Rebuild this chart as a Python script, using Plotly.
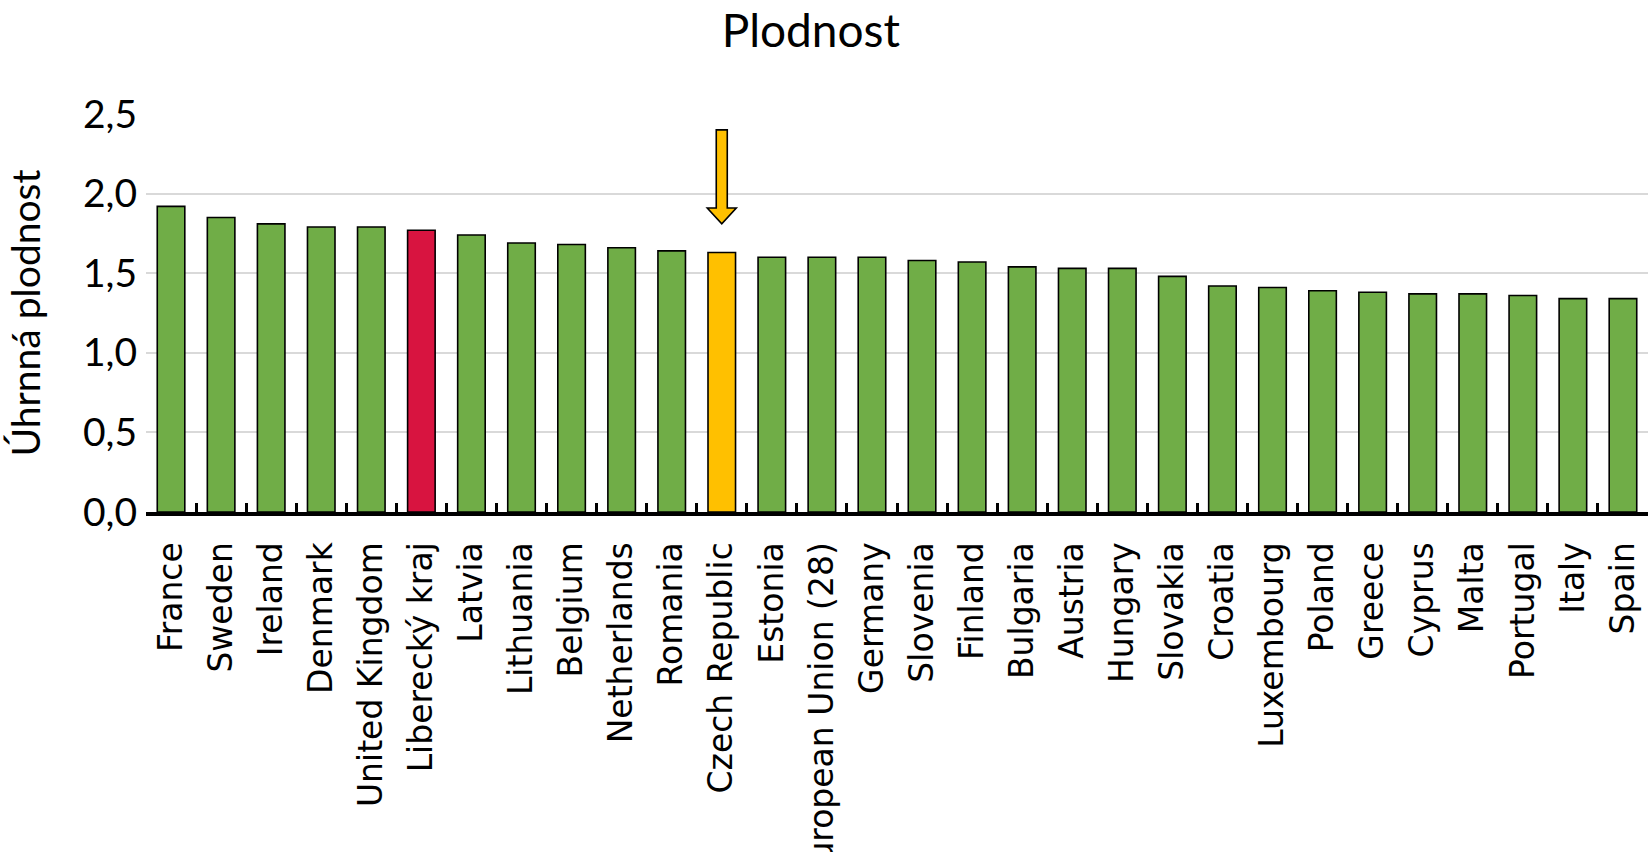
import plotly.graph_objects as go

categories = ["France", "Sweden", "Ireland", "Denmark", "United Kingdom", "Liberecký kraj",
              "Latvia", "Lithuania", "Belgium", "Netherlands", "Romania", "Czech Republic",
              "Estonia", "European Union (28)", "Germany", "Slovenia", "Finland", "Bulgaria",
              "Austria", "Hungary", "Slovakia", "Croatia", "Luxembourg", "Poland", "Greece",
              "Cyprus", "Malta", "Portugal", "Italy", "Spain"]
values = [1.92, 1.85, 1.81, 1.79, 1.79, 1.77, 1.74, 1.69, 1.68, 1.66, 1.64, 1.63,
          1.60, 1.60, 1.60, 1.58, 1.57, 1.54, 1.53, 1.53, 1.48, 1.42, 1.41, 1.39, 1.38,
          1.37, 1.37, 1.36, 1.34, 1.34]
highlight_region = "Liberecký kraj"
highlight_country = "Czech Republic"
y_ticks = [0, 0.5, 1.0, 1.5, 2.0, 2.5]

GREEN = "#70AD47"
RED = "#D81440"
YELLOW = "#FFC000"

colors = [RED if c == highlight_region else YELLOW if c == highlight_country else GREEN
          for c in categories]

fig = go.Figure()
fig.add_trace(go.Bar(
    x=categories, y=values, width=0.55,
    marker=dict(color=colors, line=dict(color="black", width=1.6)),
    hoverinfo="x+y",
))

# block arrow pointing at the Czech Republic bar
ci = categories.index(highlight_country)
cv = values[ci]
sw, hw = 0.11, 0.29
tip, base, top = cv + 0.18, cv + 0.28, cv + 0.77
path = (f"M {ci - sw} {top} L {ci + sw} {top} L {ci + sw} {base} L {ci + hw} {base} "
        f"L {ci} {tip} L {ci - hw} {base} L {ci - sw} {base} Z")
fig.add_shape(type="path", path=path, xref="x", yref="y",
              fillcolor=YELLOW, line=dict(color="black", width=1.6), layer="above")

fig.update_layout(
    width=1648, height=852,
    margin=dict(l=146, r=0, t=114, b=340, autoexpand=False),
    paper_bgcolor="white", plot_bgcolor="white",
    separators=", ",
    showlegend=False,
    title=dict(text="Plodnost", x=0.492, xref="container", xanchor="center",
               y=1 - 31 / 852, yref="container", yanchor="middle",
               font=dict(family="Lato", size=46, color="black")),
    xaxis=dict(type="category", showline=True, linewidth=4, linecolor="black",
               ticks="inside", tickson="boundaries", ticklen=9, tickwidth=3,
               tickcolor="black", tickangle=-90,
               tickfont=dict(family="DejaVu Sans", size=33, color="black"),
               ticklabelstandoff=13, showgrid=False, automargin=False,
               range=[-0.5, len(categories) - 0.5]),
    yaxis=dict(range=[0, 2.5], tickvals=y_ticks, tickformat=".1f",
               showgrid=True, gridcolor="#D9D9D9", gridwidth=1.5,
               showline=False, zeroline=False, ticks="",
               tickfont=dict(family="Lato", size=39, color="black"),
               ticklabelstandoff=8, automargin=False,
               title=dict(text="Úhrnná plodnost", standoff=30,
                          font=dict(family="Lato", size=39, color="black"))),
    font=dict(family="Lato", color="black"),
)

fig.write_html("out.html", config={"displayModeBar": False},
               post_script="document.body.style.margin='0';document.body.style.overflow='hidden';")
